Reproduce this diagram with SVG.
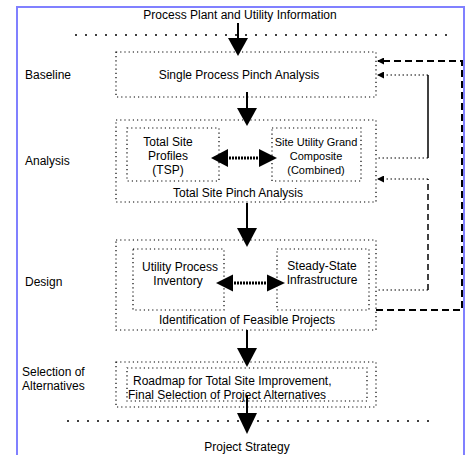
<svg xmlns="http://www.w3.org/2000/svg" width="470" height="455" viewBox="0 0 470 455">
<style>
text{font-family:"Liberation Sans",Arial,sans-serif;font-size:12px;fill:#000}
.c{text-anchor:middle}
.s{font-size:11px}
.box{fill:none;stroke:#000;stroke-width:1.2;stroke-dasharray:1.2 3}
.sep{fill:none;stroke:#000;stroke-width:1.5;stroke-dasharray:2 8}
.shaft{stroke:#000;stroke-width:2;fill:none}
.dshaft{stroke:#000;stroke-width:3;stroke-dasharray:2 1;fill:none}
.dot{fill:none;stroke:#000;stroke-width:1.2;stroke-dasharray:1.5 2.5}
.dash{fill:none;stroke:#000;stroke-width:2;stroke-dasharray:7 4}
.dash2{fill:none;stroke:#000;stroke-width:1.5;stroke-dasharray:6 4}
.solid{fill:none;stroke:#000;stroke-width:1.5}
.head{fill:#000}
</style>
<defs>
<marker id="fb" markerWidth="7" markerHeight="7" refX="6" refY="3.5" orient="auto" markerUnits="userSpaceOnUse">
<path d="M0,0 L7,3.5 L0,7 Z" fill="#000"/>
</marker>
</defs>
<rect x="17" y="7" width="447" height="460" fill="#fff" stroke="#8080ff" stroke-width="2"/>

<g id="labels">
<text x="25" y="79">Baseline</text>
<text x="25" y="165">Analysis</text>
<text x="25" y="286">Design</text>
<text x="22" y="376">Selection of</text>
<text x="22" y="390">Alternatives</text>
</g>

<g id="input">
<text class="c" x="240" y="19">Process Plant and Utility Information</text>
</g>
<line class="sep" x1="75" y1="35" x2="447" y2="35"/>

<g id="single-process">
<rect class="box" x="116" y="52" width="260" height="45"/>
<text class="c" x="239" y="79">Single Process Pinch Analysis</text>
</g>

<g id="total-site">
<rect class="box" x="116" y="120" width="260" height="82"/>
<g id="tsp">
<rect class="box" x="127" y="128" width="92" height="53"/>
<text class="c" x="168" y="146">Total Site</text>
<text class="c" x="168" y="160">Profiles</text>
<text class="c" x="168" y="174">(TSP)</text>
</g>
<g id="sugc">
<rect class="box" x="272" y="128" width="89" height="53"/>
<text class="c s" x="316" y="146">Site Utility Grand</text>
<text class="c s" x="316" y="160">Composite</text>
<text class="c s" x="316" y="174">(Combined)</text>
</g>
<text class="c" x="238" y="197">Total Site Pinch Analysis</text>
</g>

<g id="design">
<rect class="box" x="116" y="240" width="260" height="90"/>
<g id="inventory">
<rect class="box" x="133" y="249" width="91" height="61"/>
<text class="c" x="180" y="271">Utility Process</text>
<text class="c" x="178" y="285">Inventory</text>
</g>
<g id="infrastructure">
<rect class="box" x="277" y="249" width="92" height="61"/>
<text class="c" x="322" y="270">Steady-State</text>
<text class="c" x="322" y="284">Infrastructure</text>
</g>
<text class="c" x="247" y="324">Identification of Feasible Projects</text>
</g>

<g id="selection">
<rect class="box" x="116" y="362" width="260" height="45"/>
<rect class="box" x="127" y="368" width="240" height="33"/>
<text x="133" y="385">Roadmap for Total Site Improvement,</text>
<text x="128" y="399">Final Selection of Project Alternatives</text>
</g>

<line class="sep" x1="67" y1="421" x2="435" y2="421"/>
<g id="output">
<text class="c" x="247" y="451">Project Strategy</text>
</g>

<g id="connectors">
<line class="shaft" x1="238" y1="23" x2="238" y2="40"/>
<polygon class="head" points="228,38 248,38 238,56"/>
<line class="shaft" x1="247" y1="92" x2="247" y2="110"/>
<polygon class="head" points="237,108 257,108 247,126"/>
<line class="shaft" x1="247" y1="203" x2="247" y2="229"/>
<polygon class="head" points="237,228 257,228 247,247"/>
<line class="shaft" x1="247" y1="330" x2="247" y2="349"/>
<polygon class="head" points="237,348 257,348 247,367"/>
<line class="shaft" x1="247" y1="395" x2="247" y2="414"/>
<polygon class="head" points="237,413 257,413 247,434"/>

<line class="dshaft" x1="226" y1="158" x2="260" y2="158"/>
<polygon class="head" points="211,158 228,149 228,167"/>
<polygon class="head" points="277,158 259,149 259,167"/>
<line class="dshaft" x1="231" y1="283" x2="269" y2="283"/>
<polygon class="head" points="216,283 233,274.5 233,291.5"/>
<polygon class="head" points="285,283 267,274.5 267,291.5"/>

<polyline class="dot" points="428,158 378,158"/>
<polyline class="solid" points="428,158 428,75"/>
<polyline class="dot" points="428,75 378,75" marker-end="url(#fb)"/>

<polyline class="dot" points="428,290 378,290"/>
<polyline class="dash2" points="428,290 428,179"/>
<polyline class="dot" points="428,179 378,179" marker-end="url(#fb)"/>

<polyline class="dash" points="376,310 462,310 462,61 378,61" marker-end="url(#fb)"/>
</g>
</svg>
